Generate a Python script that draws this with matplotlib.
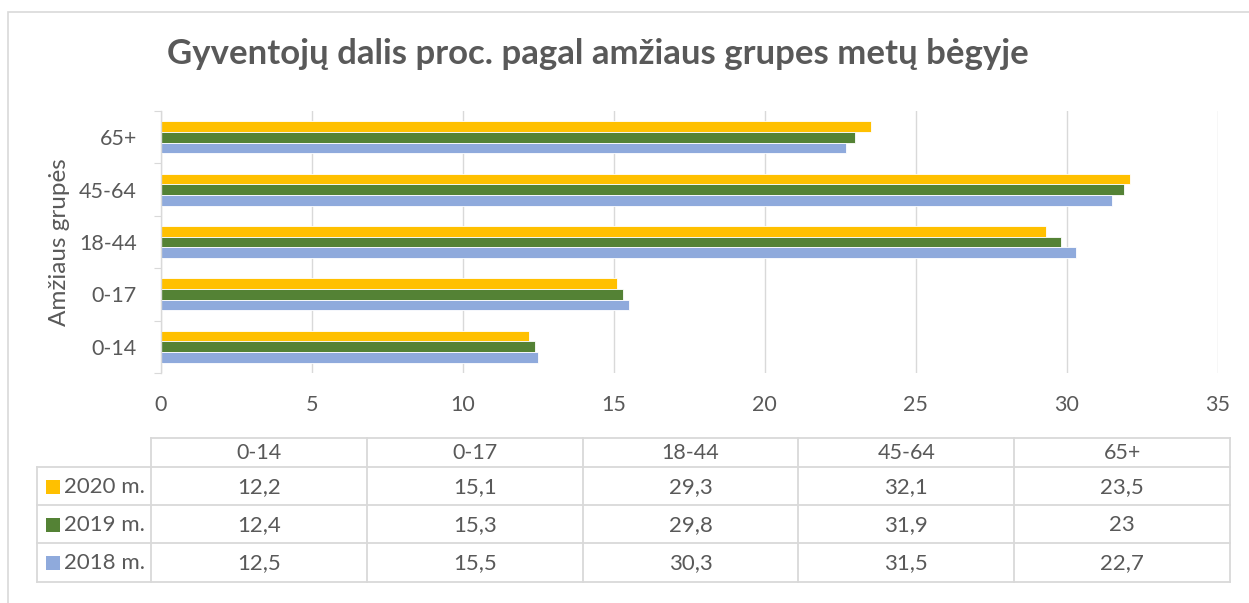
import matplotlib
matplotlib.use("Agg")
import matplotlib.pyplot as plt
from matplotlib.patches import Rectangle

plt.rcParams["font.family"] = ["Lato", "DejaVu Sans"]

# ---------------------------------------------------------------------------
# DATA
# ---------------------------------------------------------------------------
groups = ["0-14", "0-17", "18-44", "45-64", "65+"]
years = ["2020 m.", "2019 m.", "2018 m."]
vals_2020 = [12.2, 15.1, 29.3, 32.1, 23.5]
vals_2019 = [12.4, 15.3, 29.8, 31.9, 23.0]
vals_2018 = [12.5, 15.5, 30.3, 31.5, 22.7]
x_ticks = [0, 5, 10, 15, 20, 25, 30, 35]

TITLE = "Gyventojų dalis proc. pagal amžiaus grupes metų bėgyje"
YLABEL = "Amžiaus grupės"

# ---------------------------------------------------------------------------
# STYLE
# ---------------------------------------------------------------------------
W, H = 1249, 603
TXT = "#595959"
GRID = "#D9D9D9"
colors = ["#FFC000", "#548235", "#8FAADC"]
series = [vals_2020, vals_2019, vals_2018]

def fx(px):
    return px / W

def fy(py):
    return 1 - py / H

fig = plt.figure(figsize=(W / 100, H / 100), dpi=100)

# outer chart border (only top/left visible in the crop)
fig.patches.append(Rectangle((fx(7.5), fy(620)), fx(1300), fy(12.5) - fy(620),
                             transform=fig.transFigure, facecolor="none",
                             edgecolor=GRID, linewidth=1.2))

# ---------------------------------------------------------------------------
# BAR CHART
# ---------------------------------------------------------------------------
x0, x1, y0, y1 = 160.7, 1218, 111, 373
ax = fig.add_axes([fx(x0), fy(y1), fx(x1 - x0), fy(y0) - fy(y1)])

h = 0.204
pos = list(range(len(groups)))
offsets = [h, 0, -h]
for vals, col, off in zip(series, colors, offsets):
    ax.barh([p + off for p in pos], vals, height=h, color=col,
            edgecolor="white", linewidth=0.6)

ax.set_xlim(0, 35)
ax.set_ylim(-0.5, len(groups) - 0.5)
ax.set_xticks(x_ticks)
ax.set_xticklabels([str(t) for t in x_ticks])
ax.tick_params(axis="x", length=0, pad=16, labelsize=15.5, labelcolor=TXT)

# category boundaries as major ticks, labels on minor ticks
ax.set_yticks([p - 0.5 for p in range(len(groups) + 1)])
ax.set_yticklabels([])
ax.set_yticks(pos, minor=True)
ax.set_yticklabels(groups, minor=True)
ax.tick_params(axis="y", which="major", length=5, color=GRID, direction="out")
ax.tick_params(axis="y", which="minor", length=0, pad=17, labelsize=15.5,
               labelcolor=TXT)

ax.grid(axis="x", color=GRID, linewidth=1.0)
ax.set_axisbelow(True)
for s in ["top", "right", "bottom"]:
    ax.spines[s].set_visible(False)
ax.spines["left"].set_color(GRID)
ax.spines["left"].set_linewidth(1.0)

fig.text(fx(60), fy(242), YLABEL, rotation=90, ha="center", va="center",
         fontsize=17.5, color=TXT)

fig.text(fx(598), fy(64), TITLE, ha="center", va="baseline",
         fontsize=25, fontweight="bold", color=TXT)

# ---------------------------------------------------------------------------
# DATA TABLE
# ---------------------------------------------------------------------------
tab = fig.add_axes([0, 0, 1, 1])
tab.set_xlim(0, W)
tab.set_ylim(H, 0)
tab.axis("off")

t_left, t_lab, t_right = 37, 151, 1230
row_edges = [437.5, 467, 505, 543, 581.5]
col_w = (t_right - t_lab) / len(groups)
col_edges = [t_lab + i * col_w for i in range(len(groups) + 1)]

lw = 1.3
# horizontal lines
tab.plot([t_lab, t_right], [row_edges[0]] * 2, color=GRID, lw=lw)
for ry in row_edges[1:]:
    tab.plot([t_left, t_right], [ry] * 2, color=GRID, lw=lw)
# vertical lines
tab.plot([t_left, t_left], [row_edges[1], row_edges[-1]], color=GRID, lw=lw)
for cx in col_edges:
    tab.plot([cx, cx], [row_edges[0], row_edges[-1]], color=GRID, lw=lw)

# header
for i, g in enumerate(groups):
    tab.text(col_edges[i] + col_w / 2, (row_edges[0] + row_edges[1]) / 2 + 1,
             g, ha="center", va="center", fontsize=15.5, color=TXT)

# rows
for r, (yr, vals, col) in enumerate(zip(years, series, colors)):
    cy = (row_edges[r + 1] + row_edges[r + 2]) / 2 + 1
    tab.add_patch(Rectangle((46, cy - 7), 14, 14, facecolor=col, edgecolor="none"))
    tab.text(64, cy, yr, ha="left", va="center", fontsize=16, color=TXT)
    for i, v in enumerate(vals):
        tab.text(col_edges[i] + col_w / 2, cy, f"{v:g}".replace(".", ","),
                 ha="center", va="center", fontsize=16, color=TXT)

fig.savefig("out.png", dpi=100, facecolor="white")
